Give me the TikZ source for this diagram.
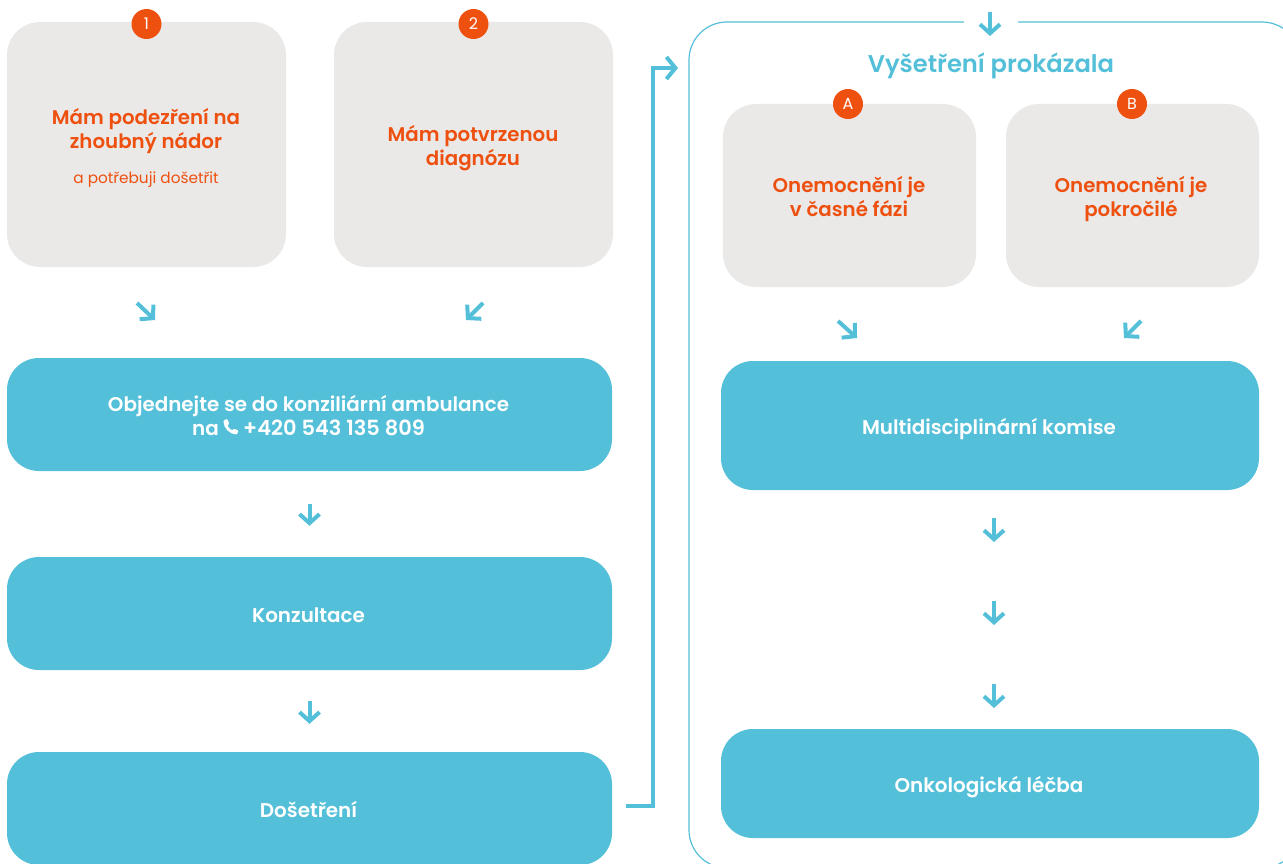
\documentclass[tikz,border=0pt]{standalone}
\usepackage{fontspec}
\setmainfont{Poppins}[BoldFont={Poppins SemiBold}]
\usetikzlibrary{arrows.meta}
\definecolor{teal}{HTML}{54BFD8}
\definecolor{pale}{HTML}{EBE9E8}
\definecolor{rust}{HTML}{EE500F}
\newcommand{\phoneicon}{\tikz[baseline=-1pt,x=1pt,y=1pt]{\fill[white,rounded corners=.8pt]
  (.5,14) .. controls (.5,6) and (7,0) .. (14,0) -- (15.5,3.8) -- (11,5.8) -- (9.4,4) .. controls (7.5,5) and (5.5,7) .. (4.6,9) -- (6.3,10.8) -- (4.3,15.5) -- cycle;}}
\begin{document}
\begin{tikzpicture}[x=1pt,y=-1pt,
  grey node/.style={rectangle,fill=pale,rounded corners=33pt,inner sep=0pt},
  teal node/.style={rectangle,fill=teal,rounded corners=32pt,inner sep=0pt},
  grey text/.style={inner sep=0pt,text=rust,align=center,font=\bfseries\fontsize{19.8}{24}\selectfont},
  teal text/.style={inner sep=0pt,text=white,align=center,font=\bfseries\fontsize{19.9}{24}\selectfont},
  badge node/.style={circle,fill=rust,text=white,inner sep=0pt,minimum size=30pt,font=\fontsize{16}{16}\selectfont},
  flow arrow/.style={draw=teal,line width=4pt,-{Straight Barb[length=9pt,width=20pt,line width=4pt]}}]

  \clip (0,0) rectangle (1283,864);

  % frame of the right part
  \node[draw=teal,line width=1.2pt,rounded corners=38pt,minimum width=611pt,minimum height=846pt,inner sep=0pt] (frame) at (994.5,445) {};
  \node[fill=white,minimum width=54pt,minimum height=6pt,inner sep=0pt] (gap) at (991,22.5) {};
  \node[text=teal,font=\bfseries\fontsize{24.2}{30}\selectfont] (title) at (991,66) {Vyšetření prokázala};

  \node[grey node,minimum width=279pt,minimum height=245pt] (1) at (146.5,144.5) {};
  \node[grey node,minimum width=279pt,minimum height=245pt] (2) at (473.5,144.5) {};
  \node[grey node,minimum width=253pt,minimum height=183pt] (A) at (849.5,195.5) {};
  \node[grey node,minimum width=253pt,minimum height=183pt] (B) at (1132.5,195.5) {};

  \node[grey text] (t1) at (146,147.5)
    {Mám podezření na\\zhoubný nádor\\[11pt]{\mdseries\fontsize{15.3}{18}\selectfont a potřebuji došetřit}};
  \node[grey text] (t2) at (473,148.5) {Mám potvrzenou\\diagnózu};
  \node[grey text] (tA) at (849,196.5) {Onemocnění je\\v časné fázi};
  \node[grey text] (tB) at (1131,199.5) {Onemocnění je\\pokročilé};

  \node[badge node] (b1) at (146.5,24) {1};
  \node[badge node] (b2) at (473.5,24) {2};
  \node[badge node] (bA) at (848,104) {A};
  \node[badge node] (bB) at (1132,104) {B};

  \node[teal node,minimum width=605pt,minimum height=113pt] (3) at (309.5,414.5) {};
  \node[teal node,minimum width=605pt,minimum height=113pt] (4) at (309.5,613.5) {};
  \node[teal node,minimum width=605pt,minimum height=113pt] (5) at (309.5,808.5) {};
  \node[teal node,minimum width=538pt,minimum height=129pt] (6) at (990,425.5) {};
  \node[teal node,minimum width=538pt,minimum height=109pt] (7) at (990,783.5) {};

  \node[teal text] (t3) at (308.5,415.5) {Objednejte se do konziliární ambulance\\na \phoneicon\ {\fontsize{20.9}{24}\selectfont +420 543 135 809}};
  \node[teal text] (t4) at (308.5,615.5) {Konzultace};
  \node[teal text] (t5) at (308.5,809.5) {Došetření};
  \node[teal text] (t6) at (989,429.5) {Multidisciplinární komise};
  \node[teal text] (t7) at (989,787.5) {Onkologická léčba};

  % free ends of the loose arrows
  \coordinate (p1) at (137,303);
  \coordinate (q1) at (155,320);
  \coordinate (p2) at (483,303);
  \coordinate (q2) at (466,320);
  \coordinate (pA) at (838,321);
  \coordinate (qA) at (857,338);
  \coordinate (pB) at (1141,321);
  \coordinate (qB) at (1124,338);
  \coordinate (p6) at (994,518);
  \coordinate (q6) at (994,542);
  \coordinate (r6) at (994,601);
  \coordinate (s6) at (994,625);
  \coordinate (v6) at (994,684);
  \coordinate (u6) at (994,708);
  \coordinate (in0) at (990,12);
  \coordinate (in1) at (990,36);
  \coordinate (into) at (678,68);

  \path[every edge/.style={flow arrow}]
     (p1) edge (q1)
     (p2) edge (q2)
     (pA) edge (qA)
     (pB) edge (qB)
     (3) edge[shorten <=33pt,shorten >=31pt] (4)
     (4) edge[shorten <=31pt,shorten >=28pt] (5)
     (p6) edge (q6)
     (r6) edge (s6)
     (v6) edge (u6)
     (in0) edge (in1);

  \draw[draw=teal,line width=4pt,-{Straight Barb[length=9pt,width=22pt,line width=4pt]},shorten <=14pt]
     (5.east |- 0,806) -- (653,806) -- (653,68) -- (into);
\end{tikzpicture}
\end{document}
